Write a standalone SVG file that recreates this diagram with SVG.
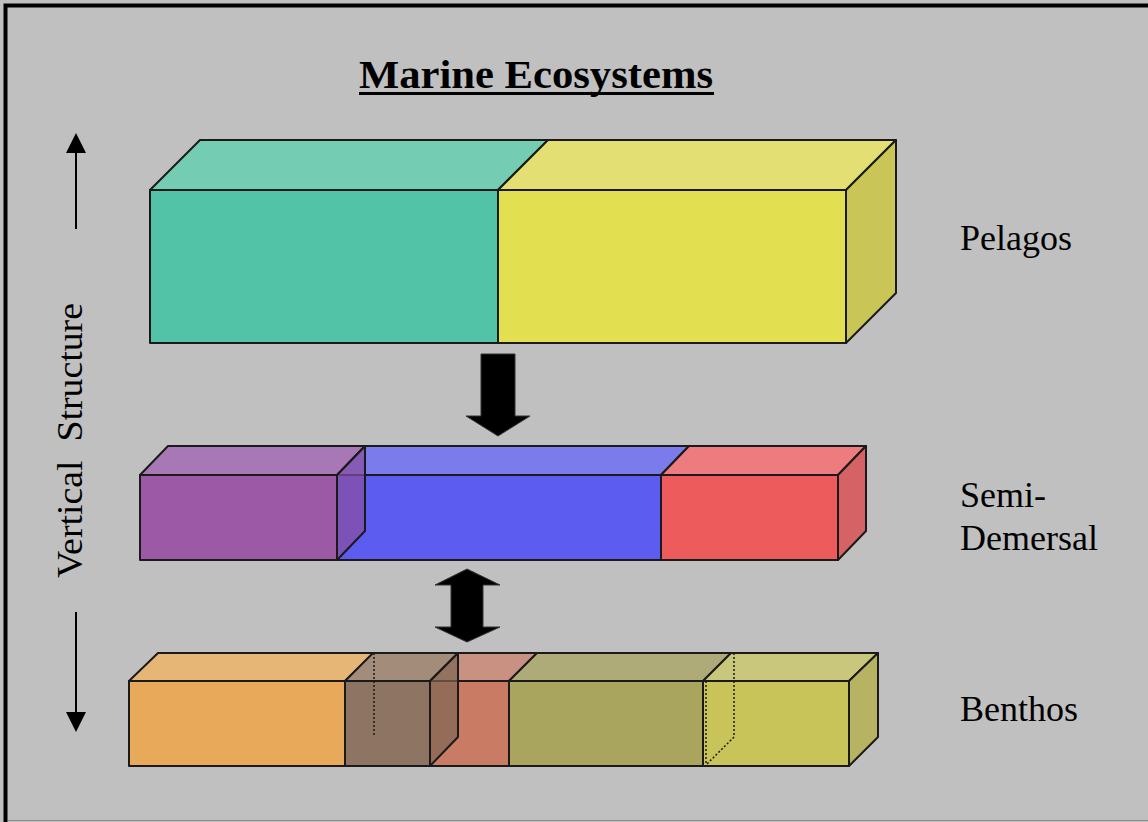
<svg xmlns="http://www.w3.org/2000/svg" width="1148" height="822" viewBox="0 0 1148 822">
<style>
.f{stroke:#1a1a1a;stroke-width:2;stroke-linejoin:round}
.t{font-family:"Liberation Serif","Times New Roman",serif;fill:#000}
.lbl{font-size:36px}
.hid{fill:none;stroke:#1a1a1a;stroke-width:1.5;stroke-dasharray:2 2}
</style>
<rect x="0" y="0" width="1148" height="822" fill="#c0c0c0"/>
<rect x="5.5" y="5.5" width="1160" height="840" fill="none" stroke="#000" stroke-width="4"/>
<line x1="8" y1="820.5" x2="1148" y2="820.5" stroke="#8a8a8a" stroke-width="1"/>

<g id="title">
<text class="t" x="359" y="88" font-size="40" font-weight="bold" textLength="354" lengthAdjust="spacingAndGlyphs">Marine Ecosystems</text>
<rect x="359" y="92" width="355" height="3" fill="#000"/>
</g>

<g id="axis">
<line x1="76" y1="229" x2="76" y2="150" stroke="#000" stroke-width="2"/>
<polygon points="66,153 86,153 76,133" fill="#000"/>
<line x1="76" y1="612" x2="76" y2="714" stroke="#000" stroke-width="2"/>
<polygon points="66,712 86,712 76,732" fill="#000"/>
<text class="t lbl" xml:space="preserve" transform="rotate(-90 82 578)" x="82" y="578" textLength="275" lengthAdjust="spacingAndGlyphs">Vertical  Structure</text>
</g>

<g id="pelagos">
<rect class="f" x="150" y="190" width="348" height="153" fill="#52c3a6"/>
<polygon class="f" points="150,190 200,140 548,140 498,190" fill="#74ccb2"/>
<rect class="f" x="498" y="190" width="348" height="153" fill="#e2df50"/>
<polygon class="f" points="498,190 548,140 896,140 846,190" fill="#e3df72"/>
<polygon class="f" points="846,190 896,140 896,293 846,343" fill="#c9c556"/>
</g>

<g id="semi-demersal">
<rect class="f" x="337" y="475" width="324" height="85" fill="#5c5cf0"/>
<polygon class="f" points="337,475 365,446 689,446 661,475" fill="#7b7bec"/>
<rect class="f" x="140" y="475" width="197" height="85" fill="#9c5aa6"/>
<polygon class="f" points="140,475 168,446 365,446 337,475" fill="#a877b5"/>
<polygon class="f" points="337,475 365,446 365,531 337,560" fill="#8a4f9e" fill-opacity="0.7"/>
<rect class="f" x="661" y="475" width="177" height="85" fill="#ee5b5d"/>
<polygon class="f" points="661,475 689,446 866,446 838,475" fill="#ee7c7e"/>
<polygon class="f" points="838,475 866,446 866,531 838,560" fill="#d56264"/>
</g>

<g id="benthos">
<rect class="f" x="129" y="681" width="216" height="85" fill="#e8a95a"/>
<polygon class="f" points="129,681 158,653 374,653 345,681" fill="#e6b676"/>
<rect class="f" x="430" y="681" width="79" height="85" fill="#c97c63"/>
<polygon class="f" points="430,681 458,653 537,653 509,681" fill="#c99181"/>
<rect class="f" x="345" y="681" width="85" height="85" fill="#8e7462"/>
<polygon class="f" points="345,681 373,653 458,653 430,681" fill="#a38c7a"/>
<polygon class="f" points="430,681 458,653 458,737 430,766" fill="#7d6553" fill-opacity="0.7"/>
<line class="hid" x1="374" y1="653" x2="374" y2="737"/>
<rect class="f" x="509" y="681" width="194" height="85" fill="#a9a55f"/>
<polygon class="f" points="509,681 537,653 731,653 703,681" fill="#aeab79"/>
<rect class="f" x="703" y="681" width="146" height="85" fill="#c8c45a"/>
<polygon class="f" points="703,681 731,653 878,653 849,681" fill="#c9c77b"/>
<polygon class="f" points="849,681 878,653 878,737 849,766" fill="#b6b462"/>
<line class="hid" x1="734" y1="653" x2="734" y2="737"/>
<line class="hid" x1="734" y1="737" x2="706" y2="765"/>
<line class="hid" x1="706" y1="681" x2="706" y2="766"/>
</g>

<g id="connectors">
<polygon points="481,354 515,354 515,416 530,416 498,436 466,416 481,416" fill="#000" stroke="#333" stroke-width="1"/>
<polygon points="467,569 500,585 483,585 483,627 500,627 467,642 435,627 451,627 451,585 435,585" fill="#000" stroke="#333" stroke-width="1"/>
</g>

<g id="labels">
<text class="t lbl" x="960" y="250">Pelagos</text>
<text class="t lbl" x="960" y="507">Semi-</text>
<text class="t lbl" x="960" y="550">Demersal</text>
<text class="t lbl" x="960" y="721">Benthos</text>
</g>
</svg>
